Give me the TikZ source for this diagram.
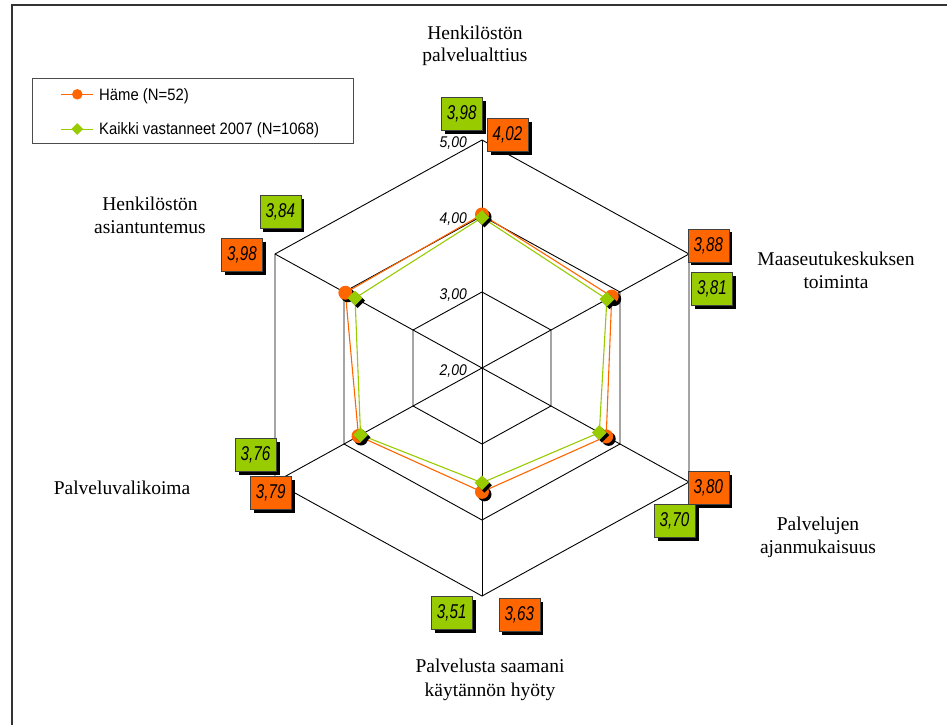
\documentclass[tikz,border=0pt]{standalone}
\usepackage{fontspec}
\setmainfont{Liberation Serif}
\newfontfamily\arialf{Liberation Sans}
\newfontfamily\arialv[FakeStretch=0.76,ItalicFeatures={FakeStretch=0.76}]{Liberation Sans}
\newfontfamily\ariall[FakeStretch=0.9,ItalicFeatures={FakeStretch=0.9}]{Liberation Sans}
\usetikzlibrary{calc,shadows,shapes.geometric}
\definecolor{hOrange}{HTML}{FF6600}
\definecolor{kGreen}{HTML}{99CC00}
\begin{document}
\begin{tikzpicture}[x=1pt,y=-1pt,
  gridline/.style={draw=black, line width=0.9pt},
  hline/.style={draw=hOrange, line width=1.1pt},
  kline/.style={draw=kGreen, line width=1.1pt},
  hmark/.style={circle, fill=hOrange, minimum size=14pt, inner sep=0pt,
    drop shadow={shadow xshift=2.5pt, shadow yshift=-2.5pt, fill=black, opacity=1}},
  kmark/.style={diamond, fill=kGreen, minimum width=15pt, minimum height=15pt, inner sep=0pt,
    drop shadow={shadow xshift=2.5pt, shadow yshift=-2.5pt, fill=black, opacity=1}},
  valbox/.style={draw=black!75, line width=0.6pt, minimum width=41pt, minimum height=33pt,
    inner sep=0pt, font=\arialv\itshape\fontsize{20}{22}\selectfont,
    drop shadow={shadow xshift=3.5pt, shadow yshift=-3.5pt, fill=black, opacity=1}},
  obox/.style={valbox, fill=hOrange},
  gbox/.style={valbox, fill=kGreen},
  axlab/.style={font=\fontsize{19.5}{23.5}\selectfont, anchor=base, inner sep=0pt},
  scalelab/.style={font=\ariall\itshape\fontsize{15.5}{17}\selectfont, anchor=base east, inner sep=0pt},
  legtext/.style={font=\ariall\fontsize{16.5}{19}\selectfont, anchor=base west, inner sep=0pt}
]
\useasboundingbox (0,0) rectangle (947,725);
\fill[white] (0,0) rectangle (947,725);
% outer frame (top and left edges)
\draw[black!80, line width=1.3pt] (12,725) -- (12,5) -- (947,5);

% axis directions
\coordinate (C) at (482,368);
\coordinate (d1) at (0,-76);
\coordinate (d2) at (69,-38);
\coordinate (d3) at (69,38);
\coordinate (d4) at (0,76);
\coordinate (d5) at (-69,38);
\coordinate (d6) at (-69,-38);

% grid
\foreach \r in {1,2,3}
  \draw[gridline] ($(C)+\r*(d1)$) -- ($(C)+\r*(d2)$) -- ($(C)+\r*(d3)$) -- ($(C)+\r*(d4)$) -- ($(C)+\r*(d5)$) -- ($(C)+\r*(d6)$) -- cycle;
\foreach \i in {1,...,6}
  \draw[gridline] (C) -- ($(C)+3*(d\i)$);

% scale labels
\node[scalelab] (s5) at (467,375.2-228) {5,00};
\node[scalelab] (s4) at (467,375.2-152) {4,00};
\node[scalelab] (s3) at (467,375.2-76) {3,00};
\node[scalelab] (s2) at (467,375.2) {2,00};

% data points (centre = 2.00)
\coordinate (hp1) at ($(C)+2.02*(d1)$);
\coordinate (hp2) at ($(C)+1.88*(d2)$);
\coordinate (hp3) at ($(C)+1.80*(d3)$);
\coordinate (hp4) at ($(C)+1.63*(d4)$);
\coordinate (hp5) at ($(C)+1.79*(d5)$);
\coordinate (hp6) at ($(C)+1.98*(d6)$);
\coordinate (kp1) at ($(C)+1.98*(d1)$);
\coordinate (kp2) at ($(C)+1.81*(d2)$);
\coordinate (kp3) at ($(C)+1.70*(d3)$);
\coordinate (kp4) at ($(C)+1.51*(d4)$);
\coordinate (kp5) at ($(C)+1.76*(d5)$);
\coordinate (kp6) at ($(C)+1.84*(d6)$);

\draw[hline] (hp1) -- (hp2) -- (hp3) -- (hp4) -- (hp5) -- (hp6) -- cycle;
\draw[kline] (kp1) -- (kp2) -- (kp3) -- (kp4) -- (kp5) -- (kp6) -- cycle;

\foreach \i in {1,...,6} \node[hmark] (h\i) at (hp\i) {};
\foreach \i in {1,...,6} \node[kmark] (k\i) at (kp\i) {};

% value boxes
\node[gbox] (g1) at (461.7,114.2) {3,98};
\node[obox] (o1) at (507.5,134.5) {4,02};
\node[obox] (o2) at (708.3,245.3) {3,88};
\node[gbox] (g2) at (712,288.7) {3,81};
\node[obox] (o3) at (708.3,487.5) {3,80};
\node[gbox] (g3) at (674.5,520.8) {3,70};
\node[gbox] (g4) at (451.7,612.5) {3,51};
\node[obox] (o4) at (519.3,615) {3,63};
\node[gbox] (g5) at (255.5,454.8) {3,76};
\node[obox] (o5) at (270.7,493) {3,79};
\node[gbox] (g6) at (280.3,211.7) {3,84};
\node[obox] (o6) at (242,254.5) {3,98};

% axis labels
\node[axlab] (a1a) at (475,40) {Henkilöstön};
\node[axlab] (a1b) at (475,62) {palvelualttius};
\node[axlab] (a2a) at (836,265) {Maaseutukeskuksen};
\node[axlab] (a2b) at (836,288) {toiminta};
\node[axlab] (a3a) at (818,530.7) {Palvelujen};
\node[axlab] (a3b) at (818,553.5) {ajanmukaisuus};
\node[axlab] (a4a) at (490,672.7) {Palvelusta saamani};
\node[axlab] (a4b) at (490,696) {käytännön hyöty};
\node[axlab] (a5a) at (122,494) {Palveluvalikoima};
\node[axlab] (a6a) at (150,210) {Henkilöstön};
\node[axlab] (a6b) at (150,233) {asiantuntemus};

% legend
\node[draw=black!70, line width=0.8pt, minimum width=321.6pt, minimum height=65pt, inner sep=0pt, anchor=north west] (leg) at (31.7,78.3) {};
\coordinate (l1a) at (61,94.3);
\coordinate (l1b) at (93.3,94.3);
\coordinate (l2a) at (61,129);
\coordinate (l2b) at (93.3,129);
\draw[hOrange, line width=1pt] (l1a) -- (l1b);
\draw[kGreen, line width=1pt] (l2a) -- (l2b);
\node[circle, fill=hOrange, minimum size=10.5pt, inner sep=0pt] (lm1) at (77.3,94.3) {};
\node[diamond, fill=kGreen, minimum width=12pt, minimum height=12pt, inner sep=0pt] (lm2) at (77.3,129) {};
\node[legtext] (lt1) at (99,100.8) {Häme (N=52)};
\node[legtext] (lt2) at (99,134.8) {Kaikki vastanneet 2007 (N=1068)};
\end{tikzpicture}
\end{document}
